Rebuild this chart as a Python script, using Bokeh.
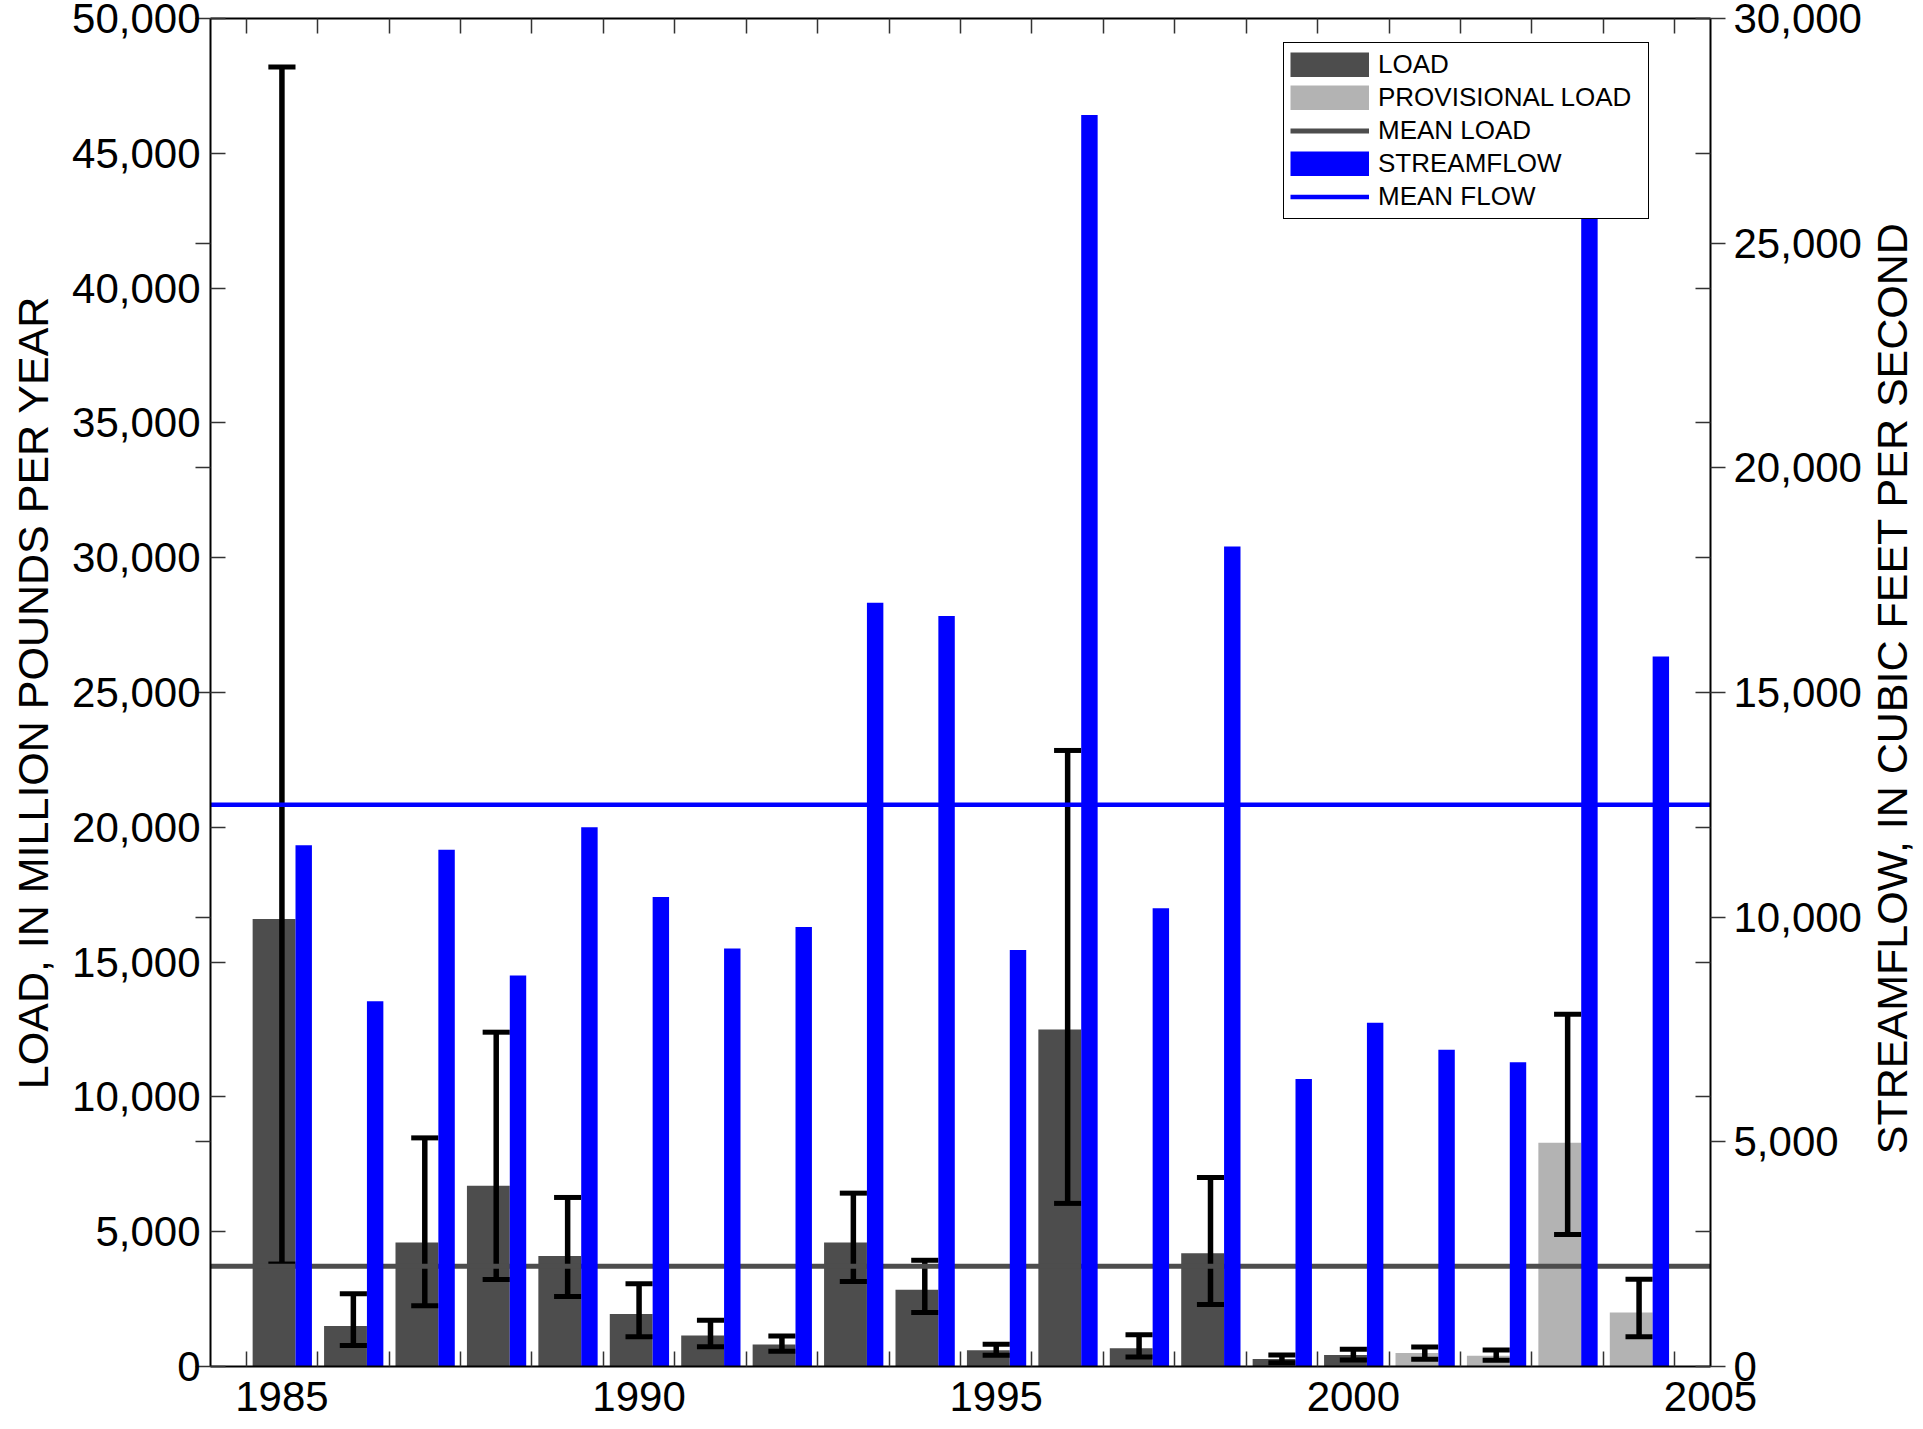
import math
from bokeh.plotting import figure
from bokeh.layouts import row
from bokeh.core.properties import value
from bokeh.models import (LinearAxis, Range1d, FixedTicker, ColumnDataSource,
                          Legend, LegendItem, CustomJSTickFormatter, NumeralTickFormatter)
from bokeh.transform import dodge
from bokeh.embed import file_html
from bokeh.resources import INLINE

# ---------------- data ----------------
years = list(range(1985, 2005))
load = [16600, 1500, 4600, 6700, 4100, 1950, 1150, 820, 4600, 2850,
        600, 12500, 680, 4200, 280, 430, 500, 400, 8300, 2000]
load_low = [3800, 780, 2250, 3230, 2600, 1100, 735, 564, 3150, 2000,
            416, 6050, 353, 2300, 137, 241, 267, 230, 4900, 1100]
load_high = [48200, 2700, 8480, 12400, 6270, 3070, 1715, 1132, 6430, 3940,
             824, 22850, 1180, 7010, 427, 638, 724, 612, 13070, 3240]
provisional = [False] * 16 + [True] * 4
flow = [11600, 8130, 11500, 8700, 12000, 10450, 9300, 9780, 17000, 16700,
        9270, 27850, 10200, 18250, 6400, 7650, 7050, 6770, 25550, 15800]
mean_load = 3720
mean_flow = 12500

load_ticks = [0, 5000, 10000, 15000, 20000, 25000, 30000, 35000, 40000, 45000, 50000]
flow_ticks = [0, 5000, 10000, 15000, 20000, 25000, 30000]
year_ticks = [1985, 1990, 1995, 2000, 2005]
X_START, X_END = 1984, 2005
LOAD_MAX, FLOW_MAX = 50000, 30000

left_title = "LOAD, IN MILLION POUNDS PER YEAR"
right_title = "STREAMFLOW, IN CUBIC FEET PER SECOND"

# ---------------- style ----------------
FONT = "Liberation Sans"
DARK = "#4d4d4d"
LIGHT = "#b3b3b3"
BLUE = "#0000ff"
TICK = "#333333"

MAIN_W, SIDE_W, H = 1865, 58, 1429

p = figure(width=MAIN_W, height=H,
           x_range=Range1d(X_START, X_END), y_range=Range1d(0, LOAD_MAX),
           output_backend="svg", toolbar_location=None,
           x_axis_location=None, y_axis_location=None,
           min_border_left=210, min_border_top=18,
           min_border_right=155, min_border_bottom=63)
p.extra_y_ranges = {"flow": Range1d(0, FLOW_MAX)}
p.grid.visible = False
p.outline_line_color = None
p.background_fill_color = "white"
p.border_fill_color = "white"


def style(ax):
    ax.axis_line_color = "black"
    ax.axis_line_width = 2
    ax.major_tick_line_color = TICK
    ax.major_tick_line_width = 1.5
    ax.minor_tick_line_color = TICK
    ax.minor_tick_line_width = 1.5
    ax.major_label_text_font = FONT
    ax.major_label_text_font_size = "42px"
    ax.major_label_text_color = "black"
    ax.axis_label_text_font = FONT
    ax.axis_label_text_font_size = "43px"
    ax.axis_label_text_font_style = "normal"
    ax.axis_label_text_color = "black"


half_years = [X_START + 0.5 + i for i in range(X_END - X_START)]

left = LinearAxis(
    ticker=FixedTicker(ticks=load_ticks,
                       minor_ticks=[f * LOAD_MAX / FLOW_MAX for f in flow_ticks]),
    formatter=NumeralTickFormatter(format="0,0"),
    axis_label=left_title)
style(left)
left.major_tick_in = 15
left.major_tick_out = 0
left.minor_tick_in = 0
left.minor_tick_out = 15
left.major_label_standoff = -5
left.axis_label_standoff = 12
p.add_layout(left, "left")

right = LinearAxis(
    y_range_name="flow",
    ticker=FixedTicker(ticks=flow_ticks,
                       minor_ticks=[l * FLOW_MAX / LOAD_MAX for l in load_ticks]),
    formatter=NumeralTickFormatter(format="0,0"))
style(right)
right.major_tick_in = 0
right.major_tick_out = 15
right.minor_tick_in = 15
right.minor_tick_out = 0
right.major_label_standoff = 8
p.add_layout(right, "right")

bottom = LinearAxis(ticker=FixedTicker(ticks=year_ticks, minor_ticks=half_years))
style(bottom)
bottom.major_tick_in = 0
bottom.major_tick_out = 0
bottom.minor_tick_in = 15
bottom.minor_tick_out = 0
bottom.major_label_standoff = 15
p.add_layout(bottom, "below")

top = LinearAxis(ticker=FixedTicker(ticks=year_ticks, minor_ticks=half_years),
                 formatter=CustomJSTickFormatter(code="return ''"))
style(top)
top.major_tick_in = 0
top.major_tick_out = 0
top.minor_tick_in = 15
top.minor_tick_out = 0
top.major_label_standoff = 0
top.major_label_text_font_size = "1px"
p.add_layout(top, "above")

# ---------------- glyphs ----------------
src = ColumnDataSource(dict(
    year=years, load=load, low=load_low, high=load_high, flow=flow,
    color=[LIGHT if pv else DARK for pv in provisional]))

p.vbar(x=dodge("year", -0.11), top="load", width=0.60, bottom=0, source=src,
       fill_color="color", line_color=None)

p.segment(x0="year", x1="year", y0="low", y1="high", source=src,
          line_color="black", line_width=5.5)
p.segment(x0=dodge("year", -0.19), x1=dodge("year", 0.19), y0="high", y1="high",
          source=src, line_color="black", line_width=5)
p.segment(x0=dodge("year", -0.19), x1=dodge("year", 0.19), y0="low", y1="low",
          source=src, line_color="black", line_width=5)

p.line(x=[X_START, X_END], y=[mean_load, mean_load], line_color=DARK, line_width=5)
p.line(x=[X_START, X_END], y=[mean_flow, mean_flow], line_color=BLUE,
       line_width=4.5, y_range_name="flow")

p.vbar(x=dodge("year", 0.305), top="flow", width=0.23, bottom=0, source=src,
       fill_color=BLUE, line_color=None, y_range_name="flow")

# ---------------- legend ----------------
dummy = ColumnDataSource(dict(x=[X_START - 1], y=[0]))
r1 = p.line("x", "y", source=dummy, line_color=DARK, line_width=25)
r2 = p.line("x", "y", source=dummy, line_color=LIGHT, line_width=25)
r3 = p.line("x", "y", source=dummy, line_color=DARK, line_width=5)
r4 = p.line("x", "y", source=dummy, line_color=BLUE, line_width=25)
r5 = p.line("x", "y", source=dummy, line_color=BLUE, line_width=4.5)

legend = Legend(items=[LegendItem(label="LOAD", renderers=[r1]),
                       LegendItem(label="PROVISIONAL LOAD", renderers=[r2]),
                       LegendItem(label="MEAN LOAD", renderers=[r3]),
                       LegendItem(label="STREAMFLOW", renderers=[r4]),
                       LegendItem(label="MEAN FLOW", renderers=[r5])],
                location=(1073, 1147), glyph_width=79, glyph_height=25,
                label_height=25, label_width=264, spacing=2, padding=6, margin=0,
                label_standoff=9, label_text_font=FONT,
                label_text_font_size="26px", label_text_color="black",
                border_line_color="black", border_line_width=1.5,
                border_line_alpha=1.0,
                background_fill_color="white", background_fill_alpha=1.0)
p.add_layout(legend)

# ---------------- right-hand axis title (reads bottom-to-top) ----------------
side = figure(width=SIDE_W, height=H, x_range=Range1d(0, SIDE_W), y_range=Range1d(0, H),
              output_backend="svg", toolbar_location=None,
              x_axis_location=None, y_axis_location=None, min_border=0)
side.grid.visible = False
side.outline_line_color = None
side.background_fill_color = "white"
side.border_fill_color = "white"
side.text(x=[26], y=[719], text=[right_title], angle=math.pi / 2,
          text_align="center", text_baseline="alphabetic",
          text_font=value(FONT), text_font_size="43px", text_color="black")

layout = row(p, side, spacing=0)

with open("out.html", "w") as f:
    f.write(file_html(layout, INLINE))
